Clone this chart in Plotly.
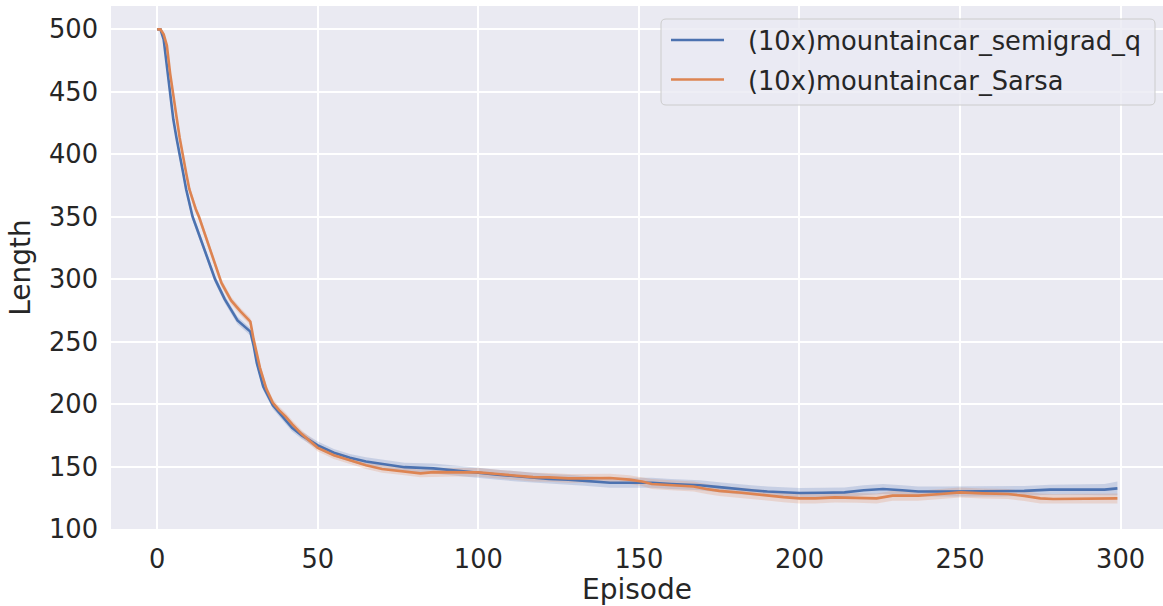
import plotly.graph_objects as go

# ---- data ----
episodes_q = [0, 1, 2, 3, 4, 5, 6, 7, 8, 9, 10, 11, 12, 14, 16, 18, 21, 25, 29, 30, 31, 33,
              36, 38, 40, 42, 45, 50, 55, 60, 65, 70, 77, 86, 93, 100, 106, 112, 117, 122,
              128, 133, 141, 150, 154, 160, 169, 175, 180, 185, 190, 195, 200, 207, 214,
              220, 226, 232, 237, 244, 250, 257, 263, 270, 278, 284, 289, 295, 299]
length_q = [500, 500, 492, 470, 445, 428, 413, 398, 386, 372, 360, 350, 343, 329, 314, 300,
            284, 267, 258, 247, 233, 214, 199, 193, 187, 181, 175, 167, 161, 157, 154, 152,
            149.5, 148.5, 147, 145, 143.5, 142, 141, 140, 139.5, 138.7, 137, 137, 137, 136,
            135, 133.5, 132, 131, 130, 129.5, 128.8, 129, 129.3, 131, 132, 131, 130, 130,
            130, 130, 130, 130.5, 131.5, 131.5, 131.5, 131.5, 132.5]
ci_q = [0.5, 0.5, 2, 3, 3, 3, 3, 3, 3, 3, 3, 3, 3, 3, 3, 3, 3, 3, 3, 3, 3, 3,
        3, 3, 3, 3, 3, 3, 3, 3, 3.5, 3.5, 3.5, 4, 4, 4, 4, 4, 4, 4,
        4, 4, 4, 4, 4, 4, 4, 4, 4, 4, 4, 4, 4, 4, 4,
        4, 4, 4, 4, 4, 4, 4, 4, 4, 4, 4, 4, 4.5, 5.5]

episodes_sarsa = [0, 1, 2, 3, 4, 5, 6, 7, 8, 9, 10, 11, 12, 13, 15, 17, 20, 23, 26, 29, 30,
                  32, 34, 36, 38, 40, 42, 45, 50, 55, 60, 65, 70, 77, 82, 86, 93, 100, 106,
                  112, 117, 122, 128, 133, 141, 147, 151, 154, 160, 167, 171, 175, 182, 190,
                  195, 200, 205, 211, 218, 224, 229, 237, 244, 250, 257, 265, 270, 275, 279,
                  284, 289, 295, 299]
length_sarsa = [500, 500, 496, 487, 465, 446, 430, 413, 398, 385, 372, 364, 356, 350, 335,
                320, 297, 283, 274, 266, 252, 229, 212, 201, 195, 190, 184, 176, 165, 159,
                155, 151, 148, 146, 144.5, 145.5, 145.5, 145.3, 144, 142.7, 141.5, 141.3,
                140.5, 140.5, 140.8, 139.5, 138, 136, 135, 134, 132, 130.5, 129, 126.7, 125.5,
                124.5, 124.5, 125.3, 125, 124.5, 126.7, 126.7, 128, 129.3, 128.5, 128, 126.5,
                124.5, 124, 124, 124, 124.5, 124.5]
ci_sarsa = [0.5, 0.5, 2, 3, 3, 3, 3, 3, 3, 3, 3, 3, 3, 3, 3, 3, 3, 3, 3, 3, 3,
            3, 3, 3, 3, 3, 3, 3, 3, 3, 3, 3, 3, 3, 3, 3.5, 3.5, 3.5, 3.5,
            3.5, 3.5, 3.5, 3.5, 3.5, 3.5, 3.5, 3.5, 4, 4, 4, 4, 4, 4, 4,
            4, 4, 4, 4, 4, 4, 4, 4, 4, 4, 4, 4, 4, 4, 4,
            4, 4, 4, 4]

series_names = ["(10x)mountaincar_semigrad_q", "(10x)mountaincar_Sarsa"]
series = [
    (series_names[0], episodes_q, length_q, ci_q, "#4C72B0", "rgba(76,114,176,0.22)"),
    (series_names[1], episodes_sarsa, length_sarsa, ci_sarsa, "#DD8452", "rgba(221,132,82,0.22)"),
]

# figure geometry (pixels)
W, H = 1163, 606
ML, MR, MT, MB = 111, 0, 6, 77
PW, PH = W - ML - MR, H - MT - MB


def px_x(p):
    return (p - ML) / PW


def px_y(p):
    return (H - MB - p) / PH


fig = go.Figure()
for name, xs, ys, ci, col, fillcol in series:
    upper = [y + c for y, c in zip(ys, ci)]
    lower = [y - c for y, c in zip(ys, ci)]
    fig.add_trace(go.Scatter(x=xs + xs[::-1], y=upper + lower[::-1], fill="toself",
                             fillcolor=fillcol, line=dict(width=0), hoverinfo="skip",
                             showlegend=False, mode="lines"))
for name, xs, ys, ci, col, fillcol in series:
    fig.add_trace(go.Scatter(x=xs, y=ys, mode="lines", name=name, showlegend=False,
                             line=dict(color=col, width=2.6)))

# manual legend (matplotlib-like framed legend)
bx0, bx1, by0, by1 = px_x(661), px_x(1155), px_y(105), px_y(19)
rx, ry = 5 / PW, 5 / PH
box_path = (f"M{bx0+rx},{by1} L{bx1-rx},{by1} Q{bx1},{by1} {bx1},{by1-ry} "
            f"L{bx1},{by0+ry} Q{bx1},{by0} {bx1-rx},{by0} L{bx0+rx},{by0} "
            f"Q{bx0},{by0} {bx0},{by0+ry} L{bx0},{by1-ry} Q{bx0},{by1} {bx0+rx},{by1} Z")
shapes = [dict(type="path", xref="paper", yref="paper", path=box_path,
               fillcolor="rgba(234,234,242,0.8)", line=dict(color="#CCCCCC", width=1), layer="above")]
annotations = []
row_line_y = [40, 79.5]
row_text_y = [41.5, 81]
for i, (name, xs, ys, ci, col, fillcol) in enumerate(series):
    shapes.append(dict(type="line", xref="paper", yref="paper", x0=px_x(671), x1=px_x(724),
                       y0=px_y(row_line_y[i]), y1=px_y(row_line_y[i]),
                       line=dict(color=col, width=2.6), layer="above"))
    annotations.append(dict(xref="paper", yref="paper", x=px_x(746), y=px_y(row_text_y[i]),
                            xanchor="left", yanchor="middle", text=name, showarrow=False,
                            font=dict(size=25.7, color="#262626")))

font_family = "DejaVu Sans"
fig.update_layout(
    width=W, height=H,
    margin=dict(l=ML, r=MR, t=MT, b=MB),
    paper_bgcolor="white", plot_bgcolor="#EAEAF2",
    font=dict(family=font_family, color="#262626", size=25.7),
    showlegend=False,
    shapes=shapes, annotations=annotations,
)
fig.update_xaxes(range=[-14.4, 313.2], tickvals=[0, 50, 100, 150, 200, 250, 300],
                 showgrid=True, gridcolor="white", gridwidth=1.8, zeroline=False,
                 showline=False, ticks="", ticklabelstandoff=12,
                 title=dict(text="Episode", font=dict(size=28), standoff=6))
fig.update_yaxes(range=[100, 518.7], tickvals=[100, 150, 200, 250, 300, 350, 400, 450, 500],
                 showgrid=True, gridcolor="white", gridwidth=1.8, zeroline=False,
                 showline=False, ticks="", ticklabelstandoff=12,
                 title=dict(text="Length", font=dict(size=28), standoff=10))

fig.write_html("out.html", config={"displayModeBar": False},
               post_script="document.body.style.margin='0';document.body.style.overflow='hidden';")
